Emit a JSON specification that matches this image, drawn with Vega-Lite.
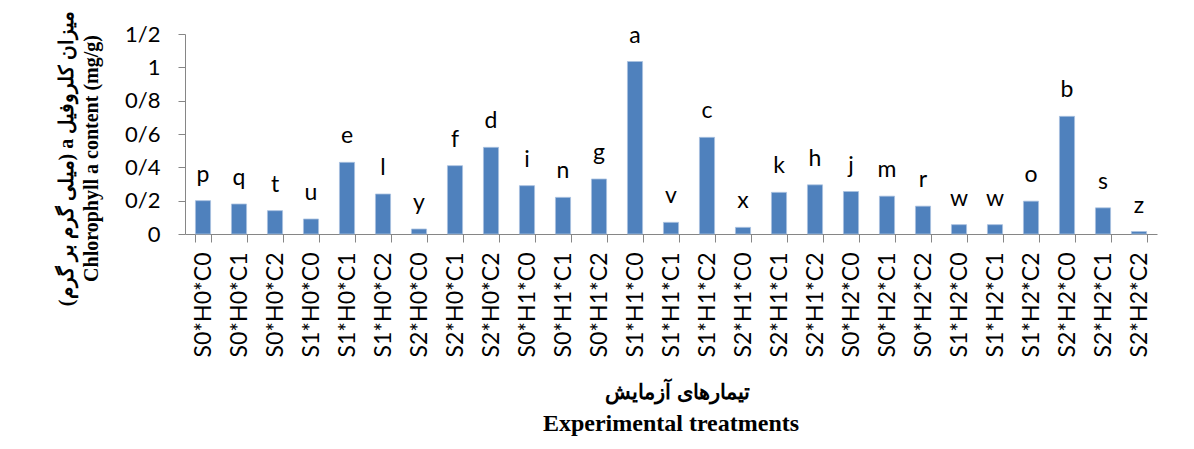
{
  "$schema": "https://vega.github.io/schema/vega-lite/v6.json",
  "autosize": "none",
  "width": 972,
  "height": 200,
  "padding": {"left": 185, "top": 34, "right": 37, "bottom": 215},
  "background": "white",
  "config": {"view": {"stroke": null}},
  "title": {
    "text": "Experimental treatments",
    "orient": "bottom",
    "anchor": "middle",
    "font": "Liberation Serif",
    "fontSize": 24,
    "fontWeight": "bold",
    "color": "black",
    "offset": 10
  },
  "data": {
    "values": [
      {"treatment": "S0*H0*C0", "value": 0.2, "group": "p"},
      {"treatment": "S0*H0*C1", "value": 0.18, "group": "q"},
      {"treatment": "S0*H0*C2", "value": 0.14, "group": "t"},
      {"treatment": "S1*H0*C0", "value": 0.09, "group": "u"},
      {"treatment": "S1*H0*C1", "value": 0.43, "group": "e"},
      {"treatment": "S1*H0*C2", "value": 0.24, "group": "l"},
      {"treatment": "S2*H0*C0", "value": 0.03, "group": "y"},
      {"treatment": "S2*H0*C1", "value": 0.41, "group": "f"},
      {"treatment": "S2*H0*C2", "value": 0.52, "group": "d"},
      {"treatment": "S0*H1*C0", "value": 0.29, "group": "i"},
      {"treatment": "S0*H1*C1", "value": 0.22, "group": "n"},
      {"treatment": "S0*H1*C2", "value": 0.33, "group": "g"},
      {"treatment": "S1*H1*C0", "value": 1.035, "group": "a"},
      {"treatment": "S1*H1*C1", "value": 0.07, "group": "v"},
      {"treatment": "S1*H1*C2", "value": 0.58, "group": "c"},
      {"treatment": "S2*H1*C0", "value": 0.04, "group": "x"},
      {"treatment": "S2*H1*C1", "value": 0.25, "group": "k"},
      {"treatment": "S2*H1*C2", "value": 0.295, "group": "h"},
      {"treatment": "S0*H2*C0", "value": 0.255, "group": "j"},
      {"treatment": "S0*H2*C1", "value": 0.227, "group": "m"},
      {"treatment": "S0*H2*C2", "value": 0.167, "group": "r"},
      {"treatment": "S1*H2*C0", "value": 0.056, "group": "w"},
      {"treatment": "S1*H2*C1", "value": 0.056, "group": "w"},
      {"treatment": "S1*H2*C2", "value": 0.197, "group": "o"},
      {"treatment": "S2*H2*C0", "value": 0.706, "group": "b"},
      {"treatment": "S2*H2*C1", "value": 0.157, "group": "s"},
      {"treatment": "S2*H2*C2", "value": 0.015, "group": "z"}
    ]
  },
  "encoding": {
    "x": {
      "field": "treatment",
      "type": "nominal",
      "sort": null,
      "scale": {"paddingInner": 0.58, "paddingOuter": 0.29},
      "axis": {
        "title": "تیمارهای آزمایش",
        "titleFont": "Liberation Serif",
        "titleFontSize": 21,
        "titleFontWeight": "bold",
        "titleColor": "black",
        "titleBaseline": "middle",
        "titleX": 492,
        "titleY": 158,
        "labelAngle": -90,
        "labelFont": "Lato",
        "labelFontSize": 23,
        "labelColor": "black",
        "labelPadding": 10,
        "labelAlign": "right",
        "labelBaseline": "middle",
        "tickBand": "extent",
        "tickSize": 8,
        "tickColor": "#868686",
        "domainColor": "#868686",
        "grid": false
      }
    },
    "y": {
      "field": "value",
      "type": "quantitative",
      "scale": {"domain": [0, 1.2], "nice": false},
      "axis": {
        "values": [0, 0.2, 0.4, 0.6, 0.8, 1, 1.2],
        "labelExpr": "replace(format(datum.value, '.1~f'), '.', '/')",
        "title": ["\u202Bمیزان کلروفیل a (میلی گرم بر گرم)\u202C", "Chlorophyll a content (mg/g)"],
        "titleFont": "Liberation Serif",
        "titleFontSize": 20,
        "titleFontWeight": "bold",
        "titleColor": "black",
        "titleLineHeight": 25,
        "titleBaseline": "middle",
        "titleAlign": "center",
        "titleAngle": -90,
        "titleX": -119,
        "titleY": 124,
        "labelFont": "Lato",
        "labelFontSize": 22,
        "labelColor": "black",
        "labelPadding": 18,
        "tickSize": 7,
        "tickColor": "#868686",
        "domainColor": "#868686",
        "grid": false
      }
    }
  },
  "layer": [
    {
      "mark": {"type": "bar", "color": "#4F81BD", "stroke": "#A9C1E0", "strokeWidth": 0.8}
    },
    {
      "mark": {"type": "text", "font": "Lato", "fontSize": 23, "color": "black", "baseline": "alphabetic", "dy": -19},
      "encoding": {"text": {"field": "group"}}
    }
  ]
}
